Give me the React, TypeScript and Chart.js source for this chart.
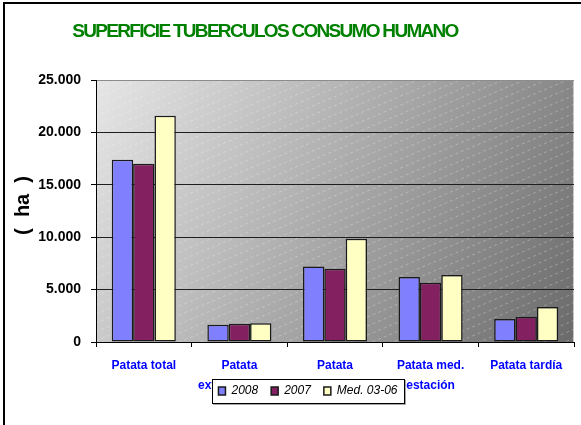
import React, { useEffect, useRef } from 'react';
import { Chart, registerables } from 'chart.js';

Chart.register(...registerables);

// ---- data ----
const categories: (string | string[])[] = [
  'Patata total',
  ['Patata', 'extratemprana'],
  ['Patata', 'temprana'],
  ['Patata med.', 'estación'],
  'Patata tardía',
];
const seriesLabels = ['2008', '2007', 'Med. 03-06'];
const values2008 = [17400, 1650, 7200, 6200, 2200];
const values2007 = [17000, 1750, 7000, 5650, 2400];
const valuesMed = [21600, 1800, 9850, 6400, 3350];
const yTickValues = [0, 5000, 10000, 15000, 20000, 25000];

const chartTitle = 'SUPERFICIE TUBERCULOS CONSUMO HUMANO';
const yAxisTitle = '  (  ha  )';

const FONT = "'Liberation Sans', Arial, Helvetica, sans-serif";
const colors = ['#8080ff', '#822060', '#ffffc4'];

// legend frame (layout)
const LEG_X = 212;
const LEG_Y = 379;
const LEG_W = 192;
const LEG_H = 24;

function fmtTick(v: number): string {
  if (v === 0) return '0';
  const s = String(Math.round(v));
  return s.replace(/\B(?=(\d{3})+(?!\d))/g, '.');
}

const decorPlugin = {
  id: 'decor',
  afterInit(chart: any) {
    const legend = chart.legend;
    if (legend) {
      const origFit = legend.fit.bind(legend);
      legend.fit = function () {
        origFit();
        this.height = 0;
      };
      const origDraw = legend.draw.bind(legend);
      legend.draw = function (area: any) {
        const ctx = chart.ctx;
        ctx.save();
        ctx.fillStyle = '#ffffff';
        ctx.fillRect(LEG_X, LEG_Y, LEG_W, LEG_H);
        ctx.strokeStyle = '#000000';
        ctx.lineWidth = 1;
        ctx.strokeRect(LEG_X + 0.5, LEG_Y + 0.5, LEG_W, LEG_H);
        ctx.strokeStyle = 'rgba(0,0,0,0.35)';
        ctx.beginPath();
        ctx.moveTo(LEG_X + LEG_W + 1.5, LEG_Y + 1);
        ctx.lineTo(LEG_X + LEG_W + 1.5, LEG_Y + LEG_H + 1.5);
        ctx.lineTo(LEG_X + 1, LEG_Y + LEG_H + 1.5);
        ctx.stroke();
        ctx.restore();
        origDraw(area);
      };
    }
    const tb = chart.titleBlock;
    if (tb) {
      const origTitleDraw = tb.draw.bind(tb);
      tb.draw = function (area: any) {
        const ctx = chart.ctx;
        ctx.save();
        (ctx as any).letterSpacing = '-1.7px';
        origTitleDraw(area);
        ctx.restore();
      };
    }
  },
  afterLayout(chart: any) {
    const legend = chart.legend;
    if (legend) {
      legend.left = 191;
      legend.right = 425;
      legend.top = 372;
      legend.bottom = 404;
      legend.width = 234;
      legend.height = 32;
    }
    const tb = chart.titleBlock;
    if (tb) {
      tb.left = 0;
      tb.right = 530;
      tb.width = 530;
    }
  },
  beforeDraw(chart: any) {
    const { ctx, chartArea: a } = chart;
    ctx.save();
    // outer frame (left and top edges)
    ctx.fillStyle = '#000000';
    ctx.fillRect(3, 2, 2, chart.height - 2);
    ctx.fillRect(3, 2, chart.width - 3, 2);
    // plot area gradient
    const g = ctx.createLinearGradient(a.left, a.top, a.right, a.bottom);
    g.addColorStop(0, '#e6e6e6');
    g.addColorStop(0.5, '#a9a9a9');
    g.addColorStop(1, '#6a6a6a');
    ctx.fillStyle = g;
    ctx.fillRect(a.left, a.top, a.right - a.left, a.bottom - a.top);
    // right edge line
    ctx.strokeStyle = '#c4c4c4';
    ctx.lineWidth = 1;
    ctx.beginPath();
    ctx.moveTo(a.right - 0.5, a.top);
    ctx.lineTo(a.right - 0.5, a.bottom);
    ctx.stroke();
    // hatch
    ctx.beginPath();
    ctx.rect(a.left, a.top, a.right - a.left, a.bottom - a.top);
    ctx.clip();
    ctx.strokeStyle = 'rgba(255,255,255,0.28)';
    ctx.lineWidth = 1;
    ctx.setLineDash([3, 3]);
    const slope = 0.42;
    const gap = 9;
    const w = a.right - a.left;
    for (let y0 = a.top; y0 < a.bottom + w * slope + gap; y0 += gap) {
      ctx.beginPath();
      ctx.moveTo(a.left, y0);
      ctx.lineTo(a.right, y0 - w * slope);
      ctx.stroke();
    }
    ctx.restore();
  },
};

export default function App() {
  const canvasRef = useRef<HTMLCanvasElement | null>(null);

  useEffect(() => {
    document.body.style.margin = '0';
    const canvas = canvasRef.current;
    if (!canvas) return;
    const datasetValues = [values2008, values2007, valuesMed];
    const chart = new Chart(canvas, {
      type: 'bar',
      data: {
        labels: categories as any,
        datasets: seriesLabels.map((label, i) => ({
          label,
          data: datasetValues[i],
          backgroundColor: colors[i],
          borderColor: '#1a1a1a',
          borderWidth: 1.5,
          borderSkipped: false,
          categoryPercentage: 0.67,
          barPercentage: 1,
        })),
      },
      options: {
        responsive: true,
        maintainAspectRatio: false,
        animation: false,
        layout: { padding: { left: 0, right: 7, top: 0, bottom: 0 } },
        plugins: {
          title: {
            display: true,
            text: chartTitle,
            color: '#008000',
            font: { family: FONT, size: 19, weight: 'bold', lineHeight: 1.2 },
            padding: { top: 20.6, bottom: 36.6 },
          },
          legend: {
            display: true,
            position: 'bottom',
            labels: {
              boxWidth: 7,
              boxHeight: 8,
              padding: 13,
              color: '#000000',
              font: { family: FONT, size: 12, style: 'italic' },
            },
          },
          tooltip: { enabled: false },
        },
        scales: {
          x: {
            grid: {
              display: true,
              drawOnChartArea: false,
              drawTicks: true,
              tickLength: 5,
              color: '#000000',
              offset: true,
            },
            border: { color: '#000000', width: 1 },
            ticks: {
              color: '#0000ff',
              font: { family: FONT, size: 12, weight: 'bold', lineHeight: 20 / 12 },
              padding: 9,
              maxRotation: 0,
              minRotation: 0,
              autoSkip: false,
              z: -1,
            },
            afterFit(scale: any) {
              scale.height = 83;
            },
          },
          y: {
            min: 0,
            max: 25000,
            afterBuildTicks(scale: any) {
              scale.ticks = yTickValues.map((v) => ({ value: v }));
            },
            ticks: {
              color: '#000000',
              font: { family: FONT, size: 14, weight: 'bold' },
              padding: 10,
              callback: (v: any) => fmtTick(Number(v)),
            },
            grid: {
              color: (ctx: any) =>
                ctx.tick && ctx.tick.value === 25000 ? '#8c8c8c' : '#1e1e1e',
              tickColor: '#000000',
              tickLength: 5,
              lineWidth: 1,
            },
            border: { color: '#000000', width: 1 },
            title: {
              display: true,
              text: yAxisTitle,
              color: '#000000',
              font: { family: FONT, size: 20, weight: 'bold', lineHeight: 1.2 },
              padding: { top: 11, bottom: 0 },
            },
            afterFit(scale: any) {
              scale.width = 96;
            },
          },
        },
      } as any,
      plugins: [decorPlugin as any],
    });
    return () => {
      chart.destroy();
    };
  }, []);

  return (
    <div style={{ width: 581, height: 425, position: 'relative' }}>
      <canvas ref={canvasRef} />
    </div>
  );
}
